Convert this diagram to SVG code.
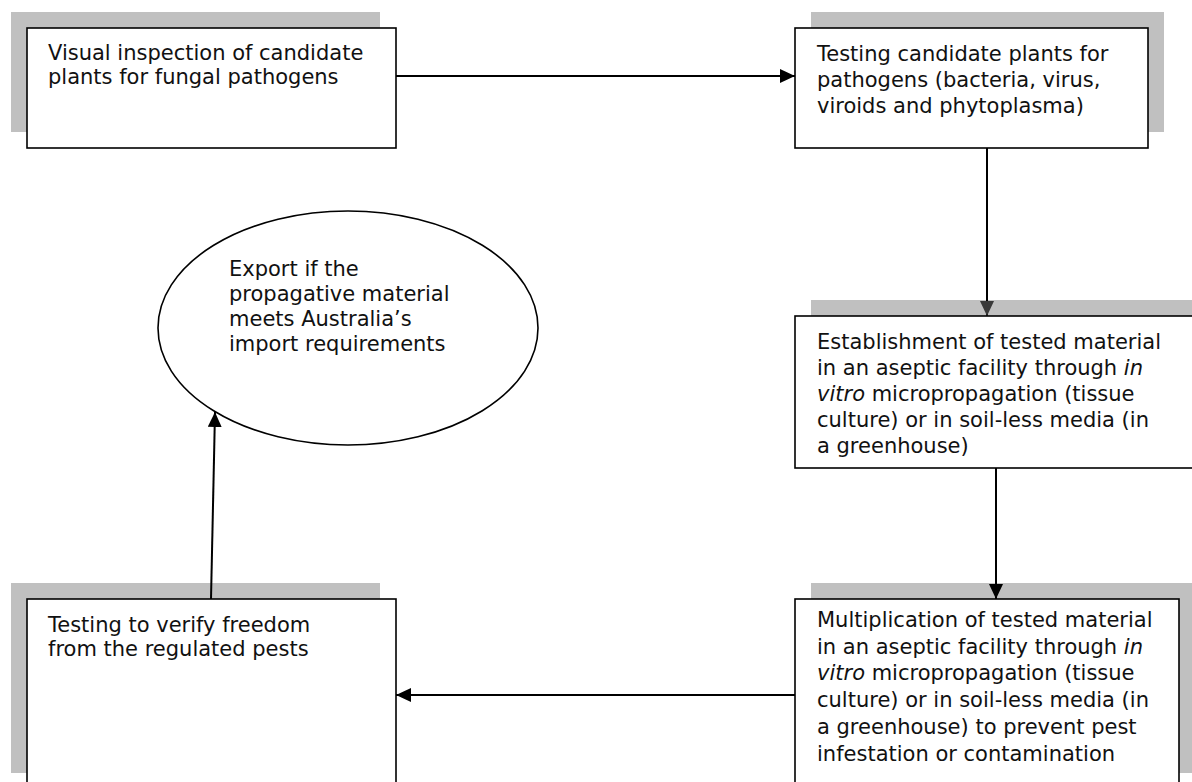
<svg xmlns="http://www.w3.org/2000/svg" width="1192" height="782" viewBox="0 0 1192 782">
<style>
.shadow{fill:#c0c0c0;stroke:none}
.box{fill:#fff;stroke:#000;stroke-width:1.6}
.lbl{font-family:"DejaVu Sans","Verdana",sans-serif;font-size:21px;fill:#111}
.it{font-style:italic}
.conn{stroke:#000;stroke-width:2;fill:none}
</style>
<defs>
<marker id="ah" markerUnits="userSpaceOnUse" markerWidth="16" markerHeight="14" refX="15" refY="7" orient="auto">
<path d="M0,0 L15,7 L0,14 Z" fill="#000"/>
</marker>
<marker id="ahg" markerUnits="userSpaceOnUse" markerWidth="16" markerHeight="14" refX="15" refY="7" orient="auto">
<path d="M0,0 L15,7 L0,14 Z" fill="#3a3a3a"/>
</marker>
</defs>
<rect width="1192" height="782" fill="#fff"/>
<g id="n1">
<rect class="shadow" x="11" y="12" width="369" height="120"/>
<rect class="box" x="27" y="28" width="369" height="120"/>
<text class="lbl" x="48" y="60">Visual inspection of candidate</text>
<text class="lbl" x="48" y="83.5">plants for fungal pathogens</text>
</g>
<g id="n2">
<rect class="shadow" x="811" y="12" width="353" height="120"/>
<rect class="box" x="795" y="28" width="353" height="120"/>
<text class="lbl" x="817" y="61">Testing candidate plants for</text>
<text class="lbl" x="817" y="87">pathogens (bacteria, virus,</text>
<text class="lbl" x="817" y="113">viroids and phytoplasma)</text>
</g>
<g id="n3">
<rect class="shadow" x="811" y="300" width="400" height="140"/>
<rect class="box" x="795" y="316" width="420" height="152"/>
<text class="lbl" x="817" y="349">Establishment of tested material</text>
<text class="lbl" x="817" y="375">in an aseptic facility through <tspan class="it">in</tspan></text>
<text class="lbl" x="817" y="401"><tspan class="it">vitro</tspan> micropropagation (tissue</text>
<text class="lbl" x="817" y="427">culture) or in soil-less media (in</text>
<text class="lbl" x="817" y="453">a greenhouse)</text>
</g>
<g id="n4">
<rect class="shadow" x="811" y="583" width="381" height="190"/>
<rect class="box" x="795" y="599" width="384" height="200"/>
<text class="lbl" x="817" y="627">Multiplication of tested material</text>
<text class="lbl" x="817" y="653.7">in an aseptic facility through <tspan class="it">in</tspan></text>
<text class="lbl" x="817" y="680.4"><tspan class="it">vitro</tspan> micropropagation (tissue</text>
<text class="lbl" x="817" y="707.1">culture) or in soil-less media (in</text>
<text class="lbl" x="817" y="733.8">a greenhouse) to prevent pest</text>
<text class="lbl" x="817" y="760.5">infestation or contamination</text>
</g>
<g id="n5">
<rect class="shadow" x="11" y="583" width="369" height="190"/>
<rect class="box" x="27" y="599" width="369" height="200"/>
<text class="lbl" x="48" y="632">Testing to verify freedom</text>
<text class="lbl" x="48" y="656">from the regulated pests</text>
</g>
<g id="n6">
<ellipse class="box" cx="348" cy="328" rx="190" ry="117"/>
<text class="lbl" x="229" y="275.5">Export if the</text>
<text class="lbl" x="229" y="300.5">propagative material</text>
<text class="lbl" x="229" y="325.5">meets Australia’s</text>
<text class="lbl" x="229" y="350.5">import requirements</text>
</g>
<g id="connectors">
<line class="conn" x1="396" y1="76" x2="795" y2="76" marker-end="url(#ah)"/>
<line class="conn" x1="987" y1="148" x2="987" y2="316" marker-end="url(#ahg)"/>
<line class="conn" x1="996" y1="468" x2="996" y2="599" marker-end="url(#ah)"/>
<line class="conn" x1="795" y1="695" x2="396" y2="695" marker-end="url(#ah)"/>
<line class="conn" x1="211" y1="599" x2="215" y2="412" marker-end="url(#ah)"/>
</g>
</svg>
